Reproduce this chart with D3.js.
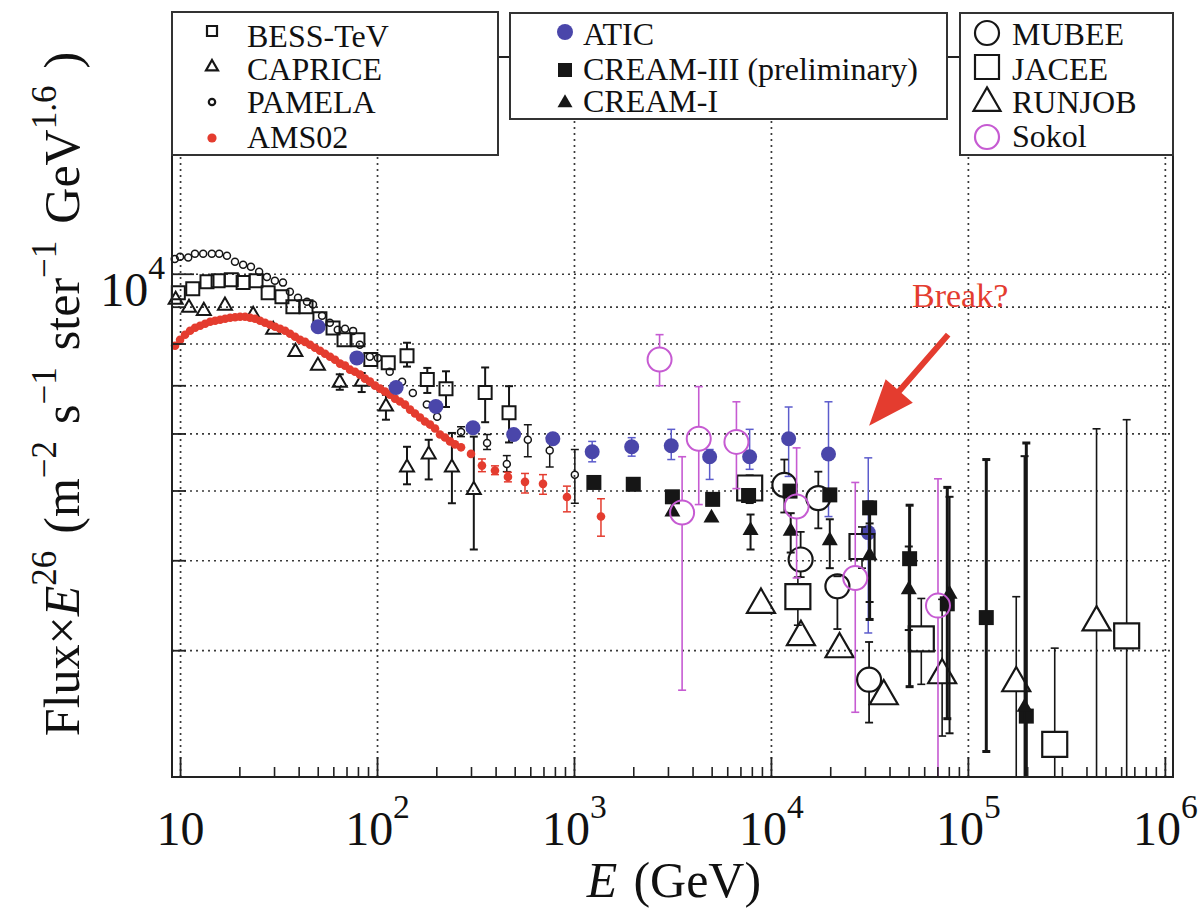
<!DOCTYPE html>
<html>
<head>
<meta charset="utf-8">
<script src="https://cdn.jsdelivr.net/npm/d3@7/dist/d3.min.js"></script>
<style>
  body { margin: 0; background: #fff; }
  svg text { font-family: "Liberation Serif", "Times New Roman", serif; fill: #111; }
</style>
</head>
<body>
<svg id="chart" width="1203" height="911"></svg>
<script>
// values: [E (GeV), flux x E^2.6, error low, error high]
const pamela = [
  [9.4, 10480], [10, 10560], [11, 10530], [11.9, 10660], [13.1, 10660], [14.5, 10660],
  [15.8, 10660], [17.3, 10590], [19, 10390], [20.9, 10290], [22.9, 10230], [25.2, 10060],
  [27.6, 9900], [30.3, 9780], [33.3, 9720], [36.1, 9440], [39.7, 9260], [44.1, 9140],
  [47.3, 9060], [52.6, 8740], [57.6, 8550], [63.2, 8360], [68.8, 8390], [75.6, 8330],
  [81.8, 7970], [91.9, 7670], [101, 7640], [116, 7310], [134, 7080], [152, 6830],
  [179, 6580], [202, 6330], [267, 6030, 5940, 6130], [362, 5820, 5700, 5980],
  [456, 5440, 5310, 5590], [583, 5880, 5570, 6170], [753, 5680, 5390, 5920],
  [1010, 5260, 4800, 5700]
];
const bess = [
  [9.8, 9410], [11.6, 9530], [13.7, 9750], [15.6, 9780], [18.2, 9810], [20.9, 9720],
  [24.3, 9780], [28, 9410], [32.9, 9290], [37.4, 9000], [43.6, 9000], [51.3, 8660],
  [59.8, 8410], [68, 8100], [80, 8100], [93, 7600], [114, 7520], [142, 7690, 7430, 8020],
  [180, 7130, 6830, 7400], [224, 6920, 6530, 7320], [354, 6840, 6220, 7410],
  [468, 6410, 5830, 6980]
];
const caprice = [
  [9.5, 9200], [11.1, 8970], [13.2, 8880], [16.9, 9030], [23.5, 8770], [29.7, 8360],
  [38.5, 7790], [50.1, 7450], [64.7, 7060, 6900, 7250], [83.6, 7080, 6850, 7280],
  [111, 6540, 6270, 6790], [142, 5380, 5100, 5750], [183, 5610, 5180, 5880],
  [240, 5380, 4800, 6010], [310, 5010, 4140, 5940]
];
const ams02 = [
  [9.43, 7943], [10, 8094], [10.6, 8229], [11.24, 8334], [11.92, 8414], [12.64, 8468],
  [13.4, 8522], [14.21, 8577], [15.06, 8604], [15.97, 8632], [16.93, 8660], [17.95, 8687],
  [19.02, 8701], [20.17, 8715], [21.38, 8715], [22.67, 8687], [24.03, 8660], [25.48, 8604],
  [27.01, 8549], [28.64, 8495], [30.36, 8441], [32.19, 8387], [34.12, 8334], [36.18, 8254],
  [38.35, 8176], [40.66, 8094], [43.11, 8043], [45.7, 7969], [48.45, 7893], [51.36, 7818],
  [54.45, 7744], [57.73, 7670], [61.2, 7597], [64.88, 7502], [68.78, 7454], [72.92, 7358],
  [77.3, 7311], [81.95, 7242], [86.88, 7150], [92.1, 7082], [97.7, 6992], [103.6, 6925],
  [109.8, 6859], [116.4, 6794], [123.4, 6708], [130.8, 6645], [138.7, 6580], [147.1, 6476],
  [155.9, 6395], [165.3, 6313], [175.2, 6233], [185.8, 6173], [197, 6095], [208.8, 5979],
  [221.4, 5924], [234.7, 5850], [248.8, 5794], [267, 5740], [300, 5621],
  [341, 5414, 5310, 5530], [397, 5330, 5260, 5410], [462, 5222, 5140, 5300],
  [564, 5140, 4960, 5280], [696, 5107, 4940, 5260], [921, 4897, 4670, 5070],
  [1371, 4600, 4320, 4870]
];
const atic = [
  [50.2, 8440], [79, 7640], [125, 6950], [199, 6540], [307, 6110], [494, 5980], [781, 5900],
  [1237, 5660, 5480, 5850], [1963, 5750, 5580, 5920], [3118, 5770, 5520, 6080],
  [4885, 5570, 5180, 5700], [7796, 5570, 5350, 6080], [12300, 5900, 5230, 6530],
  [19600, 5620, 4600, 6640], [31200, 4370, 3170, 5550]
];
const cream3 = [
  [1262, 5130], [2000, 5100], [3160, 4900], [5060, 4860], [7700, 4920], [12500, 4990],
  [19900, 4930], [31700, 4730, 3310, 4820], [50600, 4020, 2670, 4770],
  [78600, 3480, 2410, 5050], [124000, 3330, 2170, 5520], [198000, 2430, 1000, 5820]
];
const cream1 = [
  [3160, 4670], [4990, 4580], [7880, 4400, 4140, 4630], [12600, 4390, 4100, 4650],
  [19900, 4260, 3900, 4560], [31700, 4060, 3500, 4500], [50100, 3640, 3200, 4180],
  [80700, 3590, 2300, 4900], [194000, 2500, 1000, 5580]
];
const mubee = [
  [11700, 5090, 4660, 5520], [14150, 4010, 3790, 4380], [17400, 4880, 4430, 5310],
  [21750, 3680, 3210, 3800], [31500, 2730, 2380, 3080]
];
const jacee = [
  [7800, 5040, 4800, 5250], [13700, 3560, 3250, 3790], [29000, 4180, 3900, 4450],
  [58000, 3110, 2690, 3540], [276000, 2220, 1000, 3020], [640000, 3140, 1000, 6270]
];
const runjob = [
  [8900, 3470], [14200, 3130], [22300, 3010], [37400, 2590], [74000, 2770, 2280, 3530],
  [176000, 2700, 1000, 3560], [450000, 3280, 1000, 6090]
];
const sokol = [
  [2720, 7600, 6990, 8230], [3540, 4660, 2640, 5570], [4300, 5900, 4780, 6970],
  [6680, 5840, 5030, 6640], [13500, 4750, 3780, 5730], [26800, 3780, 2460, 5130],
  [70500, 3460, 1000, 5190]
];

const xDecades = [10, 1e2, 1e3, 1e4, 1e5, 1e6];
const yGridValues = [3000, 4000, 5000, 6000, 7000, 8000, 9000, 10000];
const yMajor = [10000];
const yTitleParts = ["Flux×", "E", "26", "(m", "−2", "s", "−1", "ster", "−1", "GeV", "1.6", ")"];

const svg = d3.select("#chart");
const plot = { left: 172, right: 1173, top: 57, bottom: 777 };

const x = d3.scaleLog().domain([9.1, 1.1e6]).range([plot.left, plot.right]);
const y = d3.scaleLog().domain([2000, 20000]).range([plot.bottom, plot.top]);

const red = "#e43c2f", blue = "#4a46aa", pink = "#c65bd2", ink = "#161616";

const series = [
  { name: "PAMELA", data: pamela, shape: "circle", size: 3.5, fill: "none", stroke: ink, sw: 1.5, err: ink, ew: 1.5 },
  { name: "BESS-TeV", data: bess, shape: "square", size: 13, fill: "none", stroke: ink, sw: 2, err: ink, ew: 2 },
  { name: "CAPRICE", data: caprice, shape: "triangle", size: 14, fill: "none", stroke: ink, sw: 2, err: ink, ew: 2 },
  { name: "AMS02", data: ams02, shape: "circle", size: 4.3, fill: red, stroke: "none", sw: 0, err: red, ew: 1.5 },
  { name: "ATIC", data: atic, shape: "circle", size: 7.5, fill: blue, stroke: "none", sw: 0, err: "#5c5ccc", ew: 1.5 },
  { name: "CREAM-III (preliminary)", data: cream3, shape: "square", size: 15, fill: ink, stroke: "none", sw: 0, err: ink, ew: 3 },
  { name: "CREAM-I", data: cream1, shape: "triangle", size: 16, fill: ink, stroke: "none", sw: 0, err: ink, ew: 2 },
  { name: "MUBEE", data: mubee, shape: "circle", size: 12, fill: "none", stroke: ink, sw: 2.2, err: ink, ew: 1.8 },
  { name: "JACEE", data: jacee, shape: "square", size: 25, fill: "none", stroke: ink, sw: 2.2, err: ink, ew: 1.6 },
  { name: "RUNJOB", data: runjob, shape: "triangle", size: 28, fill: "none", stroke: ink, sw: 2.2, err: ink, ew: 1.6 },
  { name: "Sokol", data: sokol, shape: "circle", size: 12, fill: "none", stroke: pink, sw: 2, err: pink, ew: 1.6 }
];

function symbolPath(shape, size) {
  if (shape === "circle") return d3.symbol(d3.symbolCircle, Math.PI * size * size)();
  if (shape === "square") return d3.symbol(d3.symbolSquare, size * size)();
  return d3.symbol(d3.symbolTriangle, Math.sqrt(3) / 4 * size * size)();
}
// distance from marker centre to its top / bottom edge
function halfUp(s) { return s.shape === "circle" ? s.size : s.shape === "square" ? s.size / 2 : s.size / Math.sqrt(3); }
function halfDown(s) { return s.shape === "circle" ? s.size : s.shape === "square" ? s.size / 2 : s.size / (2 * Math.sqrt(3)); }

svg.append("defs").append("clipPath").attr("id", "clip")
  .append("rect").attr("x", plot.left).attr("y", plot.top)
  .attr("width", plot.right - plot.left).attr("height", plot.bottom - plot.top);

// dotted grid
svg.append("g").attr("transform", `translate(0,${plot.bottom})`)
  .call(d3.axisBottom(x).tickValues(xDecades).tickSize(-(plot.bottom - plot.top)).tickFormat(""))
  .call(g => g.select(".domain").remove())
  .selectAll("line").attr("stroke", "#3a3a3a").attr("stroke-width", 1.7).attr("stroke-dasharray", "2,4");
svg.append("g").attr("transform", `translate(${plot.left},0)`)
  .call(d3.axisLeft(y).tickValues(yGridValues).tickSize(-(plot.right - plot.left)).tickFormat(""))
  .call(g => g.select(".domain").remove())
  .selectAll("line").attr("stroke", "#3a3a3a").attr("stroke-width", 1.7).attr("stroke-dasharray", "2,4");

// data
const marks = svg.append("g");
series.forEach(s => {
  const g = marks.append("g");
  const withErr = s.data.filter(d => d.length > 2);
  const up = s.fill === "none" ? halfUp(s) : 0;
  const down = s.fill === "none" ? halfDown(s) : 0;
  const eg = g.append("g").attr("clip-path", "url(#clip)")
    .attr("stroke", s.err).attr("stroke-width", s.ew);
  eg.selectAll(".hi").data(withErr.filter(d => y(d[3]) < y(d[1]) - up)).join("line")
    .attr("x1", d => x(d[0])).attr("x2", d => x(d[0]))
    .attr("y1", d => y(d[3])).attr("y2", d => y(d[1]) - up);
  eg.selectAll(".lo").data(withErr.filter(d => y(d[2]) > y(d[1]) + down)).join("line")
    .attr("x1", d => x(d[0])).attr("x2", d => x(d[0]))
    .attr("y1", d => y(d[1]) + down).attr("y2", d => y(d[2]));
  eg.selectAll(".cap").data(withErr.flatMap(d => [[d[0], d[2]], [d[0], d[3]]])).join("line")
    .attr("x1", d => x(d[0]) - 4).attr("x2", d => x(d[0]) + 4)
    .attr("y1", d => y(d[1])).attr("y2", d => y(d[1]));
  g.selectAll("path").data(s.data).join("path")
    .attr("transform", d => `translate(${x(d[0])},${y(d[1])})`)
    .attr("d", symbolPath(s.shape, s.size))
    .attr("fill", s.fill).attr("stroke", s.stroke).attr("stroke-width", s.sw);
});

// frame and inward ticks
svg.append("rect").attr("x", plot.left).attr("y", plot.top)
  .attr("width", plot.right - plot.left).attr("height", plot.bottom - plot.top)
  .attr("fill", "none").attr("stroke", "#222").attr("stroke-width", 2);

const xMinor = xDecades.slice(0, -1).flatMap(d => d3.range(2, 10).map(m => d * m));
svg.append("g").attr("transform", `translate(0,${plot.bottom})`)
  .call(d3.axisBottom(x).tickValues(xMinor).tickSize(-10).tickFormat(""))
  .call(g => g.select(".domain").remove())
  .selectAll("line").attr("stroke", "#222").attr("stroke-width", 1.6);

function writePower(text, k) {
  text.text(null);
  text.append("tspan").text("10");
  if (k !== 1) text.append("tspan").attr("dy", "-0.8em").attr("font-size", "0.7em").text(k);
}

svg.append("g").attr("transform", `translate(0,${plot.bottom})`)
  .call(d3.axisBottom(x).tickValues(xDecades).tickSize(-20).tickPadding(34))
  .call(g => g.select(".domain").remove())
  .call(g => g.selectAll("line").attr("stroke", "#222").attr("stroke-width", 1.8))
  .selectAll("text").attr("font-size", 48).attr("fill", ink)
  .each(function(d) { writePower(d3.select(this), Math.round(Math.log10(d))); });

svg.append("g").attr("transform", `translate(${plot.left},0)`)
  .call(d3.axisLeft(y).tickValues(yGridValues.filter(v => !yMajor.includes(v))).tickSize(-14).tickFormat(""))
  .call(g => g.select(".domain").remove())
  .selectAll("line").attr("stroke", "#222").attr("stroke-width", 1.8);

svg.append("g").attr("transform", `translate(${plot.left},0)`)
  .call(d3.axisLeft(y).tickValues(yMajor).tickSize(-22).tickPadding(7))
  .call(g => g.select(".domain").remove())
  .call(g => g.selectAll("line").attr("stroke", "#222").attr("stroke-width", 1.8))
  .selectAll("text").attr("font-size", 48).attr("fill", ink).attr("dy", 32)
  .each(function(d) { writePower(d3.select(this), Math.round(Math.log10(d))); });

// axis titles
const xTitle = svg.append("text").attr("x", 674).attr("y", 897)
  .attr("text-anchor", "middle").attr("font-size", 50);
xTitle.append("tspan").attr("font-style", "italic").text("E");
xTitle.append("tspan").attr("dx", 16).text("(GeV)");

const yTitle = svg.append("text").attr("transform", "translate(79,394) rotate(-90)")
  .attr("text-anchor", "middle").attr("font-size", 50);
yTitleParts.forEach((t, i) => {
  const sup = [2, 4, 6, 8, 10].includes(i);
  const ts = yTitle.append("tspan").text(t);
  if (i === 1) ts.attr("font-style", "italic");
  if (sup) ts.attr("font-size", 35).attr("dy", -23);
  else if (i > 1) ts.attr("dy", 23).attr("dx", 17);
});

// legends
const legends = [
  { x: 172, y: 12, w: 326, h: 143, tx: 247, mx: 212,
    items: [
      { s: series[1], size: 10, base: 47, my: 31 }, { s: series[2], size: 12, base: 80, my: 67 },
      { s: series[0], size: 3.2, base: 113, my: 102 }, { s: series[3], size: 4.6, base: 148, my: 138 }] },
  { x: 510, y: 13, w: 437, h: 106, tx: 583, mx: 565,
    items: [
      { s: series[4], size: 8, base: 45, my: 32 }, { s: series[5], size: 14, base: 80, my: 70 },
      { s: series[6], size: 15, base: 112, my: 103 }] },
  { x: 960, y: 13, w: 213, h: 142, tx: 1012, mx: 987,
    items: [
      { s: series[7], size: 12, base: 45, my: 33 }, { s: series[8], size: 24, base: 80, my: 67 },
      { s: series[9], size: 27, base: 113, my: 103 }, { s: series[10], size: 12, base: 147, my: 137 }] }
];
legends.forEach(L => {
  const g = svg.append("g");
  g.append("rect").attr("x", L.x).attr("y", L.y).attr("width", L.w).attr("height", L.h)
    .attr("fill", "#fff").attr("stroke", "#333").attr("stroke-width", 2);
  g.selectAll("path").data(L.items).join("path")
    .attr("transform", d => `translate(${L.mx},${d.my})`)
    .attr("d", d => symbolPath(d.s.shape, d.size))
    .attr("fill", d => d.s.fill).attr("stroke", d => d.s.stroke)
    .attr("stroke-width", d => d.s.sw ? Math.max(d.s.sw, 2.2) : 0);
  g.selectAll("text").data(L.items).join("text")
    .attr("x", L.tx).attr("y", d => d.base).attr("font-size", 32).text(d => d.s.name);
});

// "Break?" annotation
const breakLabel = { E: 52000, F: 8910 };
const arrowFrom = [79400, 8230], arrowTo = [31500, 6150];
svg.append("text").attr("x", x(breakLabel.E)).attr("y", y(breakLabel.F) - 3)
  .attr("font-size", 34).style("fill", red).text("Break?");

const ax0 = x(arrowFrom[0]), ay0 = y(arrowFrom[1]), ax1 = x(arrowTo[0]), ay1 = y(arrowTo[1]);
const len = Math.hypot(ax1 - ax0, ay1 - ay0);
const ux = (ax1 - ax0) / len, uy = (ay1 - ay0) / len, px = -uy, py = ux;
const head = 46, hw = 18, sw = 3;
const bx = ax1 - ux * head, by = ay1 - uy * head;
const arrowPts = [
  [ax0 + px * sw, ay0 + py * sw], [bx + px * sw, by + py * sw], [bx + px * hw, by + py * hw],
  [ax1, ay1], [bx - px * hw, by - py * hw], [bx - px * sw, by - py * sw], [ax0 - px * sw, ay0 - py * sw]
];
svg.append("path").attr("d", d3.line()(arrowPts) + "Z").attr("fill", red);
</script>
</body>
</html>
